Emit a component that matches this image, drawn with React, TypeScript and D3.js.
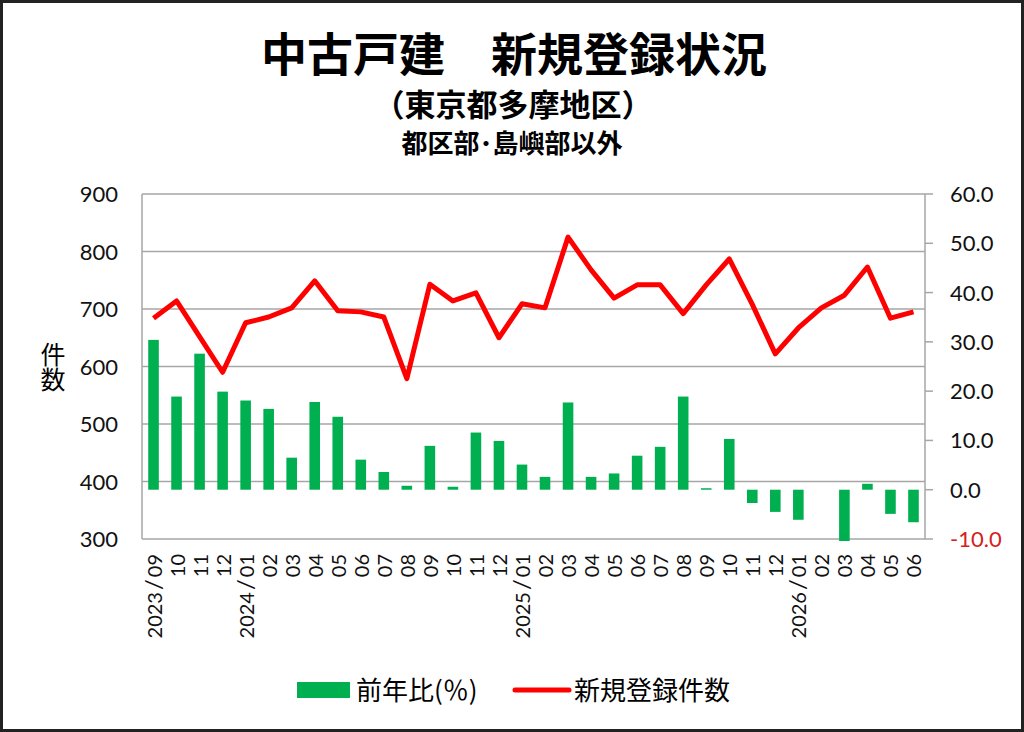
import { line, scaleBand, scaleLinear } from 'd3'

const months = [
  '2023/09', '10', '11', '12',
  '2024/01', '02', '03', '04', '05', '06', '07', '08', '09', '10', '11', '12',
  '2025/01', '02', '03', '04', '05', '06', '07', '08', '09', '10', '11', '12',
  '2026/01', '02', '03', '04', '05', '06',
]

// 新規登録件数 (left axis)
const listings = [
  684, 714, 652, 590, 676, 686, 702, 749, 697, 695, 686, 579,
  743, 714, 728, 650, 709, 702, 825, 768, 719, 742, 742, 692,
  742, 787, 708, 622, 667, 702, 724, 773, 684, 695,
]

// 前年比 % (right axis); null = no bar
const yoy: Array<number | null> = [
  30.4, 18.9, 27.6, 19.9, 18.1, 16.4, 6.5, 17.8, 14.8, 6.1, 3.6, 0.8,
  8.9, 0.6, 11.6, 9.9, 5.1, 2.6, 17.7, 2.6, 3.3, 6.9, 8.7, 18.9,
  0.3, 10.3, -2.7, -4.5, -6.1, null, -10.5, 1.2, -4.9, -6.6,
]

const leftTicks = [300, 400, 500, 600, 700, 800, 900]
const rightTicks = [-10, 0, 10, 20, 30, 40, 50, 60]

const W = 1024
const H = 732
const plot = { left: 142, right: 925, top: 194, bottom: 539 }
const cjk = '"Noto Sans CJK JP", sans-serif'
const latin = 'Lato, "Noto Sans", sans-serif'
const grid = '#a6a6a6'
const green = '#00b050'
const red = '#ff0000'

export default function App() {
  const x = scaleBand()
    .domain(months.map((m, i) => `${i}`))
    .range([plot.left, plot.right])
    .paddingInner(0.54)
    .paddingOuter(0.27)
  const yL = scaleLinear().domain([300, 900]).range([plot.bottom, plot.top])
  const yR = scaleLinear().domain([-10, 60]).range([plot.bottom, plot.top])
  const cx = (i: number) => (x(`${i}`) ?? 0) + x.bandwidth() / 2

  const path = line<number>()
    .x((_, i) => cx(i))
    .y((d) => yL(d))(listings)

  return (
    <svg width={W} height={H} style={{ position: 'fixed', left: 0, top: 0, background: '#fff' }}>
      <rect x={1.5} y={1.5} width={W - 3} height={H - 3} fill="#fff" stroke="#222" strokeWidth={3} />

      <text x={514} y={71} textAnchor="middle" fontFamily={cjk} fontWeight={700} fontSize={46}>
        中古戸建　新規登録状況
      </text>
      <text x={513} y={116} textAnchor="middle" fontFamily={cjk} fontWeight={700} fontSize={31}>
        （東京都多摩地区）
      </text>
      <text x={512} y={153} textAnchor="middle" fontFamily={cjk} fontWeight={700} fontSize={26}>
        都区部･島嶼部以外
      </text>

      <defs>
        <clipPath id="plot-clip">
          <rect x={plot.left} y={plot.top} width={plot.right - plot.left} height={plot.bottom - plot.top + 2} />
        </clipPath>
      </defs>

      {leftTicks.map((t) => (
        <line key={`g-${t}`} x1={plot.left} x2={plot.right} y1={yL(t)} y2={yL(t)} stroke={grid} strokeWidth={1.5} />
      ))}
      <line x1={plot.left} x2={plot.left} y1={plot.top} y2={plot.bottom} stroke={grid} strokeWidth={1.5} />
      <line x1={plot.right} x2={plot.right} y1={plot.top} y2={plot.bottom} stroke={grid} strokeWidth={1.5} />

      <g clipPath="url(#plot-clip)">
        {yoy.map((v, i) =>
          v == null ? null : (
            <rect
              key={`b-${i}`}
              x={x(`${i}`) ?? 0}
              y={Math.min(yR(v), yR(0))}
              width={x.bandwidth()}
              height={Math.abs(yR(v) - yR(0))}
              fill={green}
            />
          ),
        )}
      </g>

      <path d={path ?? ''} fill="none" stroke={red} strokeWidth={5} strokeLinejoin="round" />

      {leftTicks.map((t) => (
        <text key={`l-${t}`} x={118} y={yL(t) + 8} textAnchor="end" fontFamily={latin} fontSize={22} fill="#111">
          {t}
        </text>
      ))}
      {rightTicks.map((t) => (
        <g key={`r-${t}`}>
          <line x1={plot.right} x2={plot.right + 8} y1={yR(t)} y2={yR(t)} stroke={grid} strokeWidth={1.5} />
          <text x={950} y={yR(t) + 8} fontFamily={latin} fontSize={22} fill={t < 0 ? '#d62020' : '#111'}>
            {t.toFixed(1)}
          </text>
        </g>
      ))}

      {months.map((m, i) => {
        const [a, b] = m.split('/')
        return (
          <text
            key={`x-${i}`}
            transform={`translate(${cx(i) + 8},${554}) rotate(-90)`}
            textAnchor="end"
            fontFamily={latin}
            fontSize={20}
            fill="#111"
          >
            {b == null ? (
              a
            ) : (
              <>
                <tspan>{a}</tspan>
                <tspan dx={2} fontSize={24}>/</tspan>
                <tspan dx={2}>{b}</tspan>
              </>
            )}
          </text>
        )
      })}

      <text x={53} y={342} fontFamily={cjk} fontSize={25} style={{ writingMode: 'vertical-rl' }}>
        件数
      </text>

      <rect x={297} y={682} width={53} height={16} fill={green} />
      <text x={356} y={700} fontFamily={cjk} fontSize={26}>前年比(％)</text>
      <line x1={515} x2={569} y1={690} y2={690} stroke={red} strokeWidth={5} strokeLinecap="round" />
      <text x={574} y={700} fontFamily={cjk} fontSize={26}>新規登録件数</text>
    </svg>
  )
}
